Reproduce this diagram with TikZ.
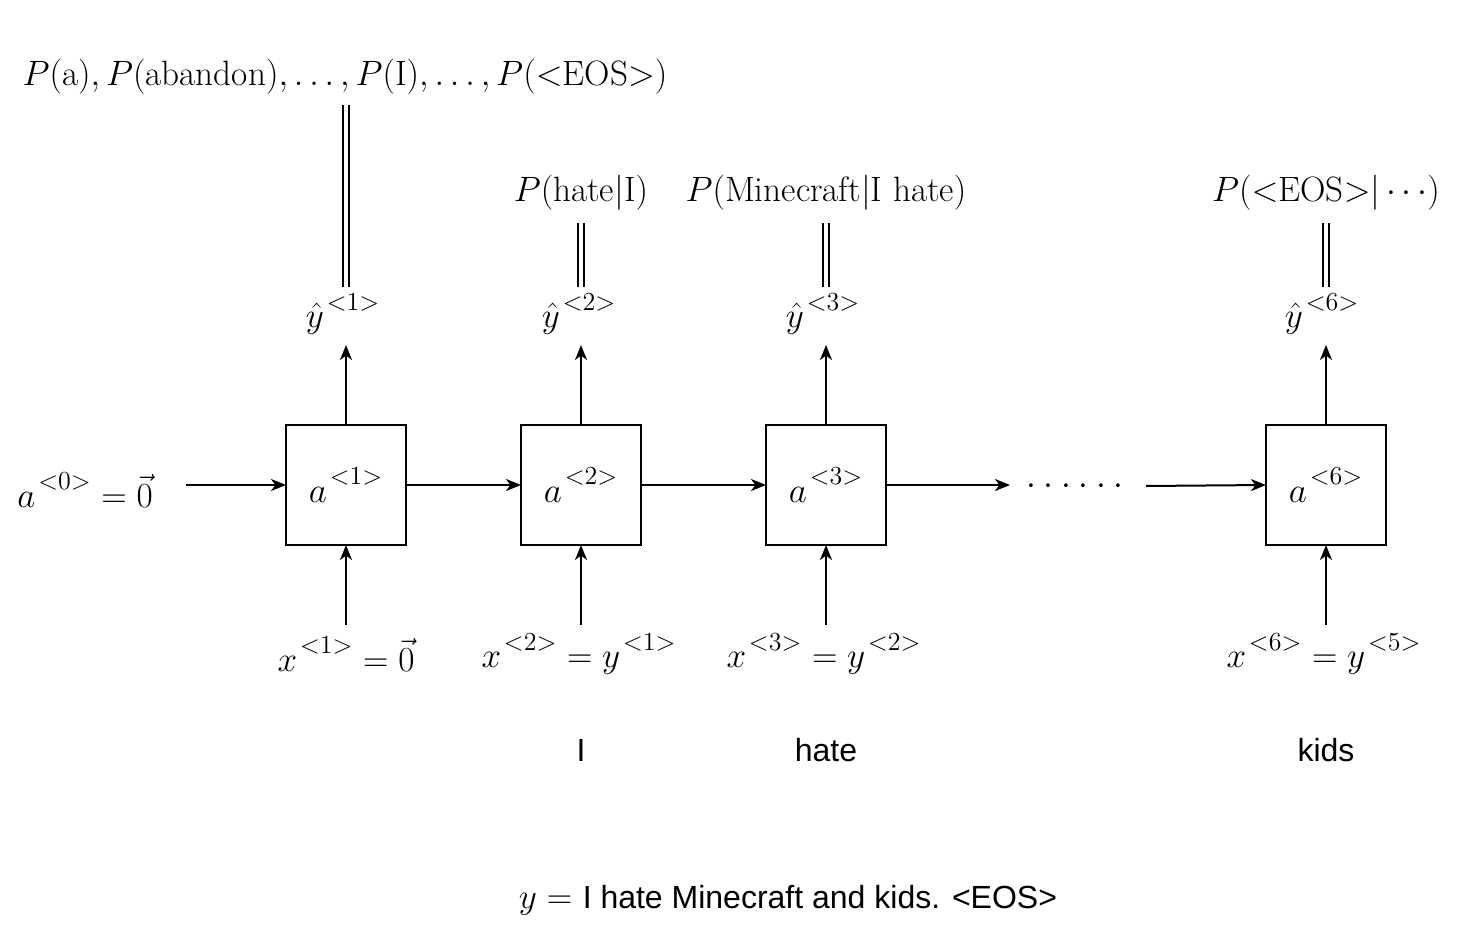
\RequirePackage{fix-cm}
\documentclass[tikz,border=0pt]{standalone}
\usepackage{fontspec}
\newfontfamily\arialf{Liberation Sans}
\DeclareMathSizes{17.6}{17.6}{13}{10}
\newcommand{\sps}[1]{^{\mkern2mu\raisebox{2.5pt}{$\scriptstyle #1$}}}
\usetikzlibrary{arrows.meta}
\begin{document}
\begin{tikzpicture}[x=0.5pt,y=-0.5pt,
  every node/.style={font=\fontsize{17.6}{21}\selectfont, inner sep=0pt, outer sep=0pt},
  cell/.style={draw, line width=1pt, minimum width=60pt, minimum height=60pt},
  arr/.style={line width=1pt, -{Stealth[length=7.5pt,width=6pt,inset=2.2pt]}},
  dbl/.style={double, line width=1pt, double distance=2pt},
  word/.style={font=\arialf\fontsize{16}{19}\selectfont}]
\useasboundingbox (0,0) rectangle (1458,947);

% cells
\node[cell] (a1) at (346,485) {$a\sps{<1>}$};
\node[cell] (a2) at (581,485) {$a\sps{<2>}$};
\node[cell] (a3) at (826,485) {$a\sps{<3>}$};
\node[cell] (a6) at (1326,485) {$a\sps{<6>}$};

% initial state
\node (a0) at (85,490) {$a\sps{<0>} = \vec{0}$};
\coordinate (s0) at (186,485);
\draw[arr] (s0) -- (a1.west);
\draw[arr] (a1.east) -- (a2.west);
\draw[arr] (a2.east) -- (a3.west);
\coordinate (e3) at (1010,485);
\draw[arr] (a3.east) -- (e3);
\node (dots) at (1075,487) {${\cdot}\:{\cdot}\:{\cdot}\:{\cdot}\:{\cdot}\:{\cdot}$};
\coordinate (s6) at (1146,486);
\draw[arr] (s6) -- (a6.west);

% outputs
\node (y1) at (343,314) {$\hat{y}\sps{<1>}$};
\node (y2) at (579,314) {$\hat{y}\sps{<2>}$};
\node (y3) at (823,314) {$\hat{y}\sps{<3>}$};
\node (y6) at (1322,314) {$\hat{y}\sps{<6>}$};
\coordinate (t1) at (346,345);
\coordinate (t2) at (581,345);
\coordinate (t3) at (826,345);
\coordinate (t6) at (1326,345);
\draw[arr] (a1.north) -- (t1);
\draw[arr] (a2.north) -- (t2);
\draw[arr] (a3.north) -- (t3);
\draw[arr] (a6.north) -- (t6);

% probabilities
\node (p1) at (345,77) {$P(\mathrm{a}), P(\mathrm{abandon}), \ldots, P(\mathrm{I}), \ldots, P(\mathord{<}\mathrm{EOS}\mathord{>})$};
\node (p2) at (581,193) {$P(\mathrm{hate}|\mathrm{I})$};
\node (p3) at (826,193) {$P(\mathrm{Minecraft}|\mathrm{I\ hate})$};
\node (p6) at (1326,193) {$P(\mathord{<}\mathrm{EOS}\mathord{>}|\cdots)$};
\coordinate (d1a) at (346,105); \coordinate (d1b) at (346,287);
\coordinate (d2a) at (581,223); \coordinate (d2b) at (581,287);
\coordinate (d3a) at (826,223); \coordinate (d3b) at (826,287);
\coordinate (d6a) at (1326,223); \coordinate (d6b) at (1326,287);
\draw[dbl] (d1a) -- (d1b);
\draw[dbl] (d2a) -- (d2b);
\draw[dbl] (d3a) -- (d3b);
\draw[dbl] (d6a) -- (d6b);

% inputs
\node (x1) at (346,654) {$x\sps{<1>} = \vec{0}$};
\node (x2) at (579,654) {$x\sps{<2>} = y\sps{<1>}$};
\node (x3) at (824,654) {$x\sps{<3>} = y\sps{<2>}$};
\node (x6) at (1324,654) {$x\sps{<6>} = y\sps{<5>}$};
\coordinate (b1) at (346,625);
\coordinate (b2) at (581,625);
\coordinate (b3) at (826,625);
\coordinate (b6) at (1326,625);
\draw[arr] (b1) -- (a1.south);
\draw[arr] (b2) -- (a2.south);
\draw[arr] (b3) -- (a3.south);
\draw[arr] (b6) -- (a6.south);

% words
\node[word] (w2) at (581,750) {I};
\node[word] (w3) at (826,750) {hate};
\node[word] (w6) at (1326,750) {kids};

\node (sent) at (788,900) {$y =$ {\arialf\fontsize{16}{19}\selectfont I hate Minecraft and kids. <EOS>}};
\end{tikzpicture}
\end{document}
